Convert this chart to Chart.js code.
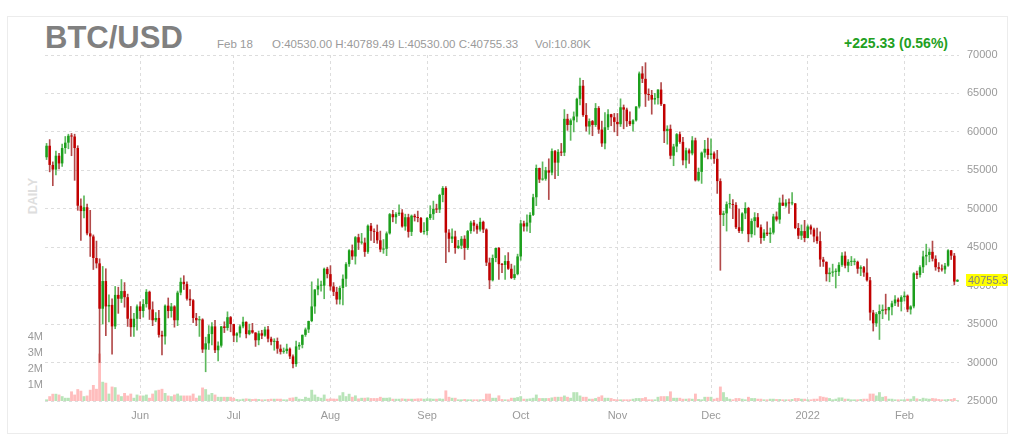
<!DOCTYPE html>
<html>
<head>
<meta charset="utf-8">
<title>BTC/USD</title>
<script src="https://cdn.jsdelivr.net/npm/chart.js@4.4.1/dist/chart.umd.min.js"></script>
<style>
  html, body { margin: 0; padding: 0; background: #fff; }
  body { width: 1024px; height: 441px; position: relative; overflow: hidden; font-family: Arial, "Liberation Sans", Helvetica, sans-serif; }
  .frame { position: absolute; left: 7px; top: 16px; width: 1001px; height: 418px; box-sizing: border-box; border: 1px solid #ececec; }
  #chart { position: absolute; left: 0; top: 0; }
  .title { position: absolute; left: 45px; top: 22px; font-size: 31px; line-height: 31px; font-weight: bold; color: #808080; }
  .info { position: absolute; top: 38px; font-size: 11.5px; line-height: 12px; color: #9a9a9a; white-space: nowrap; }
  .change { position: absolute; top: 36px; right: 76px; font-size: 14px; line-height: 14px; font-weight: bold; color: #22a022; }
  .period { position: absolute; left: 32.5px; top: 195.5px; transform: translate(-50%, -50%) rotate(-90deg); font-size: 12.5px; line-height: 1; font-weight: bold; color: #dedede; }
</style>
</head>
<body>
<div class="frame"></div>
<div class="title">BTC/USD</div>
<div class="info" style="left:217px">Feb 18</div>
<div class="info" style="left:272px">O:40530.00 H:40789.49 L:40530.00 C:40755.33</div>
<div class="info" style="left:535px">Vol:10.80K</div>
<div class="change">+225.33 (0.56%)</div>
<div class="period">DAILY</div>
<canvas id="chart" width="1024" height="441"></canvas>
<script>
// Daily candles from May 2 2021 to Feb 18 2022, one line per month
const firstDay = Date.UTC(2021, 4, 2);

const opens = [
  56700,58200,55700,55100,56900,55900,57900,58600,59500,59400,57900,50400,49700,50200,46800,46400,43600,42900,37000,40600,37300,37500,34700,38800,38300,39300,38500,35700,34600,35700,
  37300,36700,37600,39200,36900,35500,35800,33600,33400,37400,36700,37300,35500,39100,40500,40200,38300,38100,35800,35500,35600,31700,32500,33700,34700,31600,32200,34700,34500,35900,
  35000,33500,33800,34700,35300,33700,34200,33900,32900,33800,33500,34300,33100,32700,32800,31800,31400,31500,31800,30800,29800,32100,32300,33600,34300,35400,37300,39500,40000,40000,42200,
  41500,39900,39200,38200,39700,40900,42800,44600,43800,46300,45600,45600,44400,47800,47100,47000,45900,44700,44800,46800,49300,48900,49300,49500,47700,48900,47000,49100,48900,48800,47000,
  47100,48800,49300,50000,49900,51800,52700,46900,46100,46400,44900,45200,46100,44900,47100,48200,47800,47300,48300,47300,43000,40700,43600,44900,42800,42700,43200,42200,41000,41500,
  43800,48100,47700,48200,49200,51500,55300,53800,53900,55000,54700,57500,56000,57400,57300,61700,60900,61500,62000,64300,66000,62200,60700,61400,60900,63100,60300,58500,60600,62300,61900,
  61300,61000,63200,62900,61400,61000,61500,63300,67600,66900,64900,64800,64200,64400,65500,63600,60100,60400,56900,58100,59700,58700,56300,57600,57200,58900,53700,54800,57300,57800,
  57000,57200,56500,53600,49200,49400,50600,50600,50500,47600,47100,49400,50100,46700,48400,48900,47600,46200,46900,46700,46900,49000,48600,50800,50400,50800,50700,50700,47500,46500,47100,
  46200,47700,47300,46400,45800,43400,43100,41500,41700,41800,41800,42700,43900,42600,43100,43100,43100,42200,42400,41700,40700,36500,35100,36300,36700,36900,36800,37200,37700,38200,37900,
  38500,38700,36900,37300,41600,41400,42400,43800,44000,44400,43500,42400,42200,42100,42600,44600,43900,40530
];

const highs = [
  58500,59000,56100,57500,57200,58400,59400,59700,59800,59700,58200,51300,51700,50600,49800,46600,45800,43500,42500,42200,38800,38300,39900,39800,40800,40400,38900,37300,36400,37500,
  37900,38200,39500,39300,37900,36500,36800,34100,37500,38400,37700,37400,39300,41000,41300,40500,39500,38200,36400,36000,35700,33300,34800,35200,35500,32700,34700,35300,36600,36000,
  35000,33900,34900,35900,35300,35000,35100,33900,34100,34200,34600,34700,33300,33100,33200,32300,31900,32400,31900,31000,32800,32600,33600,34500,35400,40500,39500,40900,40600,42300,42400,
  42600,40400,39800,39900,41400,43000,44700,45300,46400,46700,46800,46200,47900,48100,47400,47900,47100,46000,47000,49400,49800,49500,50500,49900,49300,49300,49200,49300,49700,48900,48200,
  48900,50400,51000,50600,51900,52900,52900,47300,47400,47100,45900,46400,46500,47200,48400,48500,48000,48800,48400,47400,43600,44000,44900,45000,42900,43900,44300,42800,42600,44100,
  48500,48400,49200,49500,51900,55700,55300,56100,55400,56500,57800,57600,57700,58500,62900,62300,61700,62600,64400,67000,66700,63700,61700,61500,63700,63300,61400,62500,62900,62300,62400,
  62400,64300,63500,63100,62600,61600,63300,67800,68500,69000,65600,65400,65000,65500,66400,63600,60800,60900,58400,59800,60000,59300,57900,57800,59400,59200,55300,57400,58900,59200,
  59100,57400,57600,53900,49700,50900,51900,51200,50800,50000,49500,50800,50200,48700,49500,49400,47900,47300,48300,47500,49300,49600,51400,51800,51200,51300,52100,50700,48100,47900,48500,
  47900,47900,47500,47500,47000,43700,43100,42300,42800,42200,43000,44300,44400,43400,43800,43500,43200,42600,42500,43500,41100,36800,36500,37500,37500,38900,37200,38000,38700,38400,38700,
  39200,38800,37400,41700,41900,42600,44500,45400,44800,45800,43900,43000,42700,42900,44700,44600,44200,40789.49
];

const lows = [
  56400,54800,53000,54400,55200,55500,57200,57800,56900,53700,49800,45900,48800,46600,43800,42100,42300,30000,35000,33500,35300,31100,34400,36400,37800,37200,34700,33400,33400,34200,
  35700,35900,37200,35600,34800,35300,33300,31000,32400,35800,35900,34600,34800,38800,39500,38100,37400,35200,34800,33400,31300,28800,31700,32300,31300,30200,32000,33900,34200,34000,
  32700,32700,33300,34500,33200,33600,33800,32100,32300,33100,33400,32700,32300,31600,31200,31100,31200,31200,30500,29300,29500,31700,31900,33400,33900,35300,36400,38800,39300,38300,41000,
  39400,38700,37600,37600,37500,39900,42500,43400,42800,44700,45400,43800,44200,45900,45600,45500,44400,44200,43900,46700,48300,48100,49100,47600,47200,46300,46500,48400,48300,46900,46700,
  46600,48600,48600,49500,49500,50900,43000,44400,45600,44200,44800,44800,43400,44700,46800,47100,46800,47100,46900,42600,39600,40600,43100,40800,41700,40800,42100,40900,40800,41400,
  43300,47100,47100,46900,49100,50400,53400,53700,53700,51200,54400,53900,54300,56900,56900,60200,58900,60000,61300,63500,62000,60100,59700,59500,60700,59800,58100,57800,60300,60800,60000,
  59500,60700,60400,60700,60800,60100,61400,63100,66400,63300,64100,62300,63600,63600,63400,58600,58400,56500,55600,57400,58500,55700,55300,55900,57000,53600,53600,53300,56700,56500,
  56500,55900,52000,42000,47800,47100,50100,48700,47400,46900,46800,48700,45700,46300,46600,47600,45500,45900,46500,45600,46700,48400,48100,50400,50200,49400,50500,47400,46100,46000,45700,
  46200,46700,45700,45500,42500,42500,40600,40500,41200,39700,41300,42500,42300,41800,42600,42700,41600,41300,41200,40600,35500,34100,34700,33000,35700,36300,35500,36200,37400,37300,36700,
  38000,36600,36300,37100,40900,41100,41700,42700,43100,43200,42000,41800,41900,41600,42500,43400,40100,40530
];

const closes = [
  58200,55700,55100,56900,55900,57900,58600,59500,59400,57900,50400,49700,50200,46800,46400,43600,42900,37000,40600,37300,37500,34700,38800,38300,39300,38500,35700,34600,35700,37300,
  36700,37600,39200,36900,35500,35800,33600,33400,37400,36700,37300,35500,39100,40500,40200,38300,38100,35800,35500,35600,31700,32500,33700,34700,31600,32200,34700,34500,35900,35000,
  33500,33800,34700,35300,33700,34200,33900,32900,33800,33500,34300,33100,32700,32800,31800,31400,31500,31800,30800,29800,32100,32300,33600,34300,35400,37300,39500,40000,40000,42200,41500,
  39900,39200,38200,39700,40900,42800,44600,43800,46300,45600,45600,44400,47800,47100,47000,45900,44700,44800,46800,49300,48900,49300,49500,47700,48900,47000,49100,48900,48800,47000,47100,
  48800,49300,50000,49900,51800,52700,46900,46100,46400,44900,45200,46100,44900,47100,48200,47800,47300,48300,47300,43000,40700,43600,44900,42800,42700,43200,42200,41000,41500,43800,
  48100,47700,48200,49200,51500,55300,53800,53900,55000,54700,57500,56000,57400,57300,61700,60900,61500,62000,64300,66000,62200,60700,61400,60900,63100,60300,58500,60600,62300,61900,61300,
  61000,63200,62900,61400,61000,61500,63300,67600,66900,64900,64800,64200,64400,65500,63600,60100,60400,56900,58100,59700,58700,56300,57600,57200,58900,53700,54800,57300,57800,57000,
  57200,56500,53600,49200,49400,50600,50600,50500,47600,47100,49400,50100,46700,48400,48900,47600,46200,46900,46700,46900,49000,48600,50800,50400,50800,50700,50700,47500,46500,47100,46200,
  47700,47300,46400,45800,43400,43100,41500,41700,41800,41800,42700,43900,42600,43100,43100,43100,42200,42400,41700,40700,36500,35100,36300,36700,36900,36800,37200,37700,38200,37900,38500,
  38700,36900,37300,41600,41400,42400,43800,44000,44400,43500,42400,42200,42100,42600,44600,43900,40530,40755.33
];

// volume in millions
const volumes = [
  0.10,0.30,0.45,0.45,0.40,0.30,0.20,0.20,0.60,0.40,0.74,0.64,0.30,0.34,0.70,1.00,0.76,2.96,1.20,1.14,0.46,0.90,0.86,0.40,0.30,0.50,0.34,0.46,0.20,0.40,
  0.34,0.34,0.40,0.20,0.46,0.66,0.70,0.76,0.50,0.34,0.30,0.40,0.46,0.34,0.34,0.34,0.34,0.46,0.20,0.34,0.84,0.74,0.40,0.50,0.40,0.26,0.26,0.26,0.26,0.26,
  0.20,0.12,0.10,0.14,0.16,0.14,0.12,0.14,0.12,0.10,0.10,0.12,0.14,0.14,0.14,0.14,0.10,0.10,0.20,0.22,0.26,0.14,0.12,0.26,0.20,0.70,0.40,0.26,0.20,0.40,0.14,
  0.16,0.15,0.14,0.35,0.55,0.30,0.45,0.26,0.35,0.16,0.20,0.20,0.22,0.18,0.18,0.18,0.26,0.20,0.20,0.22,0.14,0.14,0.14,0.16,0.14,0.14,0.14,0.14,0.16,0.16,0.14,
  0.16,0.16,0.14,0.14,0.16,0.14,0.66,0.26,0.20,0.20,0.10,0.10,0.12,0.10,0.10,0.10,0.10,0.10,0.12,0.46,0.46,0.20,0.20,0.35,0.12,0.10,0.10,0.20,0.20,0.24,
  0.30,0.14,0.14,0.16,0.20,0.40,0.18,0.18,0.18,0.18,0.22,0.26,0.26,0.26,0.34,0.26,0.20,0.55,0.55,0.34,0.26,0.26,0.14,0.14,0.18,0.26,0.35,0.20,0.20,0.18,0.12,
  0.10,0.10,0.10,0.10,0.10,0.14,0.18,0.18,0.18,0.24,0.10,0.10,0.10,0.26,0.30,0.30,0.30,0.60,0.20,0.20,0.20,0.14,0.14,0.16,0.14,0.46,0.12,0.10,0.26,0.26,
  0.26,0.14,0.20,0.90,0.55,0.24,0.14,0.10,0.18,0.18,0.14,0.10,0.26,0.18,0.18,0.14,0.14,0.10,0.10,0.14,0.14,0.12,0.12,0.10,0.10,0.10,0.12,0.18,0.18,0.14,0.14,
  0.10,0.10,0.14,0.14,0.30,0.26,0.22,0.18,0.10,0.14,0.22,0.22,0.14,0.14,0.10,0.10,0.10,0.12,0.14,0.14,0.46,0.46,0.34,0.55,0.26,0.30,0.14,0.14,0.10,0.10,0.10,
  0.10,0.14,0.14,0.30,0.16,0.12,0.20,0.16,0.14,0.18,0.16,0.12,0.10,0.10,0.12,0.12,0.18,0.05
];

const monthNames = ['Jan', 'Feb', 'Mar', 'Apr', 'May', 'Jun', 'Jul', 'Aug', 'Sep', 'Oct', 'Nov', 'Dec'];
const priceMin = 25000;
const priceMax = 70000;
const priceStep = 5000;
const volumeTicks = [1, 2, 3, 4];
const volumeMax = 21.6;

const n = closes.length;
Object.entries({ opens, highs, lows, volumes }).forEach(([name, arr]) => {
  if (arr.length !== n) throw new Error(`${name} has ${arr.length} values, closes has ${n}`);
});

const dates = closes.map((_, i) => new Date(firstDay + i * 86400000));
const labels = dates.map(d => `${monthNames[d.getUTCMonth()]} ${d.getUTCDate()}`);
const isUp = i => closes[i] >= opens[i];

const gridColor = '#dddddd';

// yellow box with the last price on the right axis
const lastPriceLabel = {
  id: 'lastPriceLabel',
  afterDraw(chart) {
    const { ctx, chartArea } = chart;
    const y = Math.round(chart.scales.y.getPixelForValue(closes[n - 1]));
    ctx.save();
    ctx.fillStyle = '#ffff00';
    ctx.fillRect(chartArea.right + 7, y - 6, 42, 12);
    ctx.fillStyle = '#808080';
    ctx.font = '11px Arial, "Liberation Sans", sans-serif';
    ctx.textBaseline = 'middle';
    ctx.fillText(closes[n - 1].toFixed(1), chartArea.right + 9, y + 0.5);
    ctx.restore();
  }
};

Chart.defaults.font.family = 'Arial, "Liberation Sans", Helvetica, sans-serif';
Chart.defaults.font.size = 11;
Chart.defaults.color = '#9a9a9a';

new Chart(document.getElementById('chart'), {
  type: 'bar',
  data: {
    labels,
    datasets: [
      {
        label: 'Body',
        data: closes.map((c, i) => [opens[i], c]),
        backgroundColor: ctx => isUp(ctx.dataIndex) ? '#1c9f1c' : '#c20000',
        borderWidth: 0,
        barPercentage: 0.8,
        categoryPercentage: 1,
        minBarLength: 1,
        grouped: false,
        order: 0,
        yAxisID: 'y'
      },
      {
        label: 'Wick',
        data: highs.map((h, i) => [lows[i], h]),
        backgroundColor: ctx => isUp(ctx.dataIndex) ? '#5cb85c' : '#b24a4a',
        borderWidth: 0,
        barThickness: 1,
        grouped: false,
        order: 1,
        yAxisID: 'y'
      },
      {
        label: 'Volume',
        data: volumes,
        backgroundColor: ctx => isUp(ctx.dataIndex) ? '#b8e4b8' : '#ffbdbd',
        borderWidth: 0,
        barPercentage: 0.92,
        categoryPercentage: 1,
        grouped: false,
        order: 2,
        yAxisID: 'vol'
      }
    ]
  },
  options: {
    responsive: false,
    animation: false,
    devicePixelRatio: 1,
    layout: { padding: { top: 55, left: 0, right: 0, bottom: 0 } },
    plugins: { legend: { display: false }, tooltip: { enabled: false } },
    scales: {
      x: {
        offset: true,
        grid: { offset: false, color: gridColor, drawTicks: false },
        border: { display: false, dash: [3, 3] },
        ticks: {
          autoSkip: false,
          maxRotation: 0,
          padding: 8,
          callback: value => {
            const d = dates[value];
            return d.getUTCMonth() === 0 ? String(d.getUTCFullYear()) : monthNames[d.getUTCMonth()];
          }
        },
        afterBuildTicks: scale => {
          scale.ticks = scale.ticks.filter(t => dates[t.value].getUTCDate() === 1);
        },
        afterFit: scale => { scale.height = 40; }
      },
      y: {
        position: 'right',
        min: priceMin,
        max: priceMax,
        grid: { color: gridColor, drawTicks: false },
        border: { display: false, dash: [3, 3] },
        ticks: { stepSize: priceStep, padding: 8, callback: v => String(v) },
        afterFit: scale => { scale.width = 65; }
      },
      vol: {
        type: 'linear',
        position: 'left',
        min: 0,
        max: volumeMax,
        grid: { display: false, drawTicks: false },
        border: { display: false },
        ticks: { padding: 2, callback: v => v + 'M' },
        afterBuildTicks: scale => {
          scale.ticks = volumeTicks.map(v => ({ value: v }));
        },
        afterFit: scale => { scale.width = 45; }
      }
    }
  },
  plugins: [lastPriceLabel]
});
</script>
</body>
</html>
